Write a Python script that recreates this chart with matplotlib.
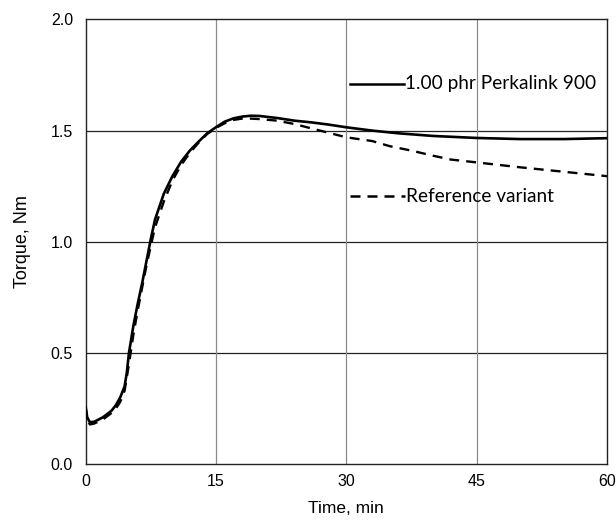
import matplotlib
matplotlib.use("Agg")
import matplotlib.pyplot as plt

# Data
t_solid = [0, 0.2, 0.5, 1, 2, 3, 3.5, 4, 4.5, 4.75, 5, 5.5, 6, 6.5, 7, 7.5, 8, 9, 10, 11, 12, 13, 14,
           15, 16, 17, 18, 19, 20, 22, 24, 26, 28, 30, 33, 36, 40, 45, 50, 55, 60]
v_solid = [0.26, 0.21, 0.188, 0.19, 0.21, 0.24, 0.265, 0.30, 0.35, 0.41, 0.50, 0.62, 0.72, 0.81,
           0.91, 1.01, 1.10, 1.215, 1.295, 1.36, 1.41, 1.45, 1.488, 1.515, 1.54, 1.555, 1.563,
           1.567, 1.566, 1.557, 1.545, 1.537, 1.527, 1.515, 1.50, 1.488, 1.476, 1.467, 1.462,
           1.462, 1.466]

t_dash = [0, 0.2, 0.5, 1, 2, 3, 3.5, 4, 4.5, 5, 5.5, 6, 6.5, 7, 7.5, 8, 9, 10, 11, 12, 13, 14,
          15, 16, 17, 18, 19, 20, 22, 24, 26, 28, 30, 33, 35, 37.5, 40, 42, 45, 50, 55, 60]
v_dash = [0.26, 0.20, 0.178, 0.182, 0.20, 0.23, 0.25, 0.28, 0.33, 0.45, 0.58, 0.69, 0.79, 0.89,
          0.98, 1.065, 1.18, 1.275, 1.345, 1.40, 1.445, 1.485, 1.512, 1.533, 1.548, 1.554, 1.554,
          1.552, 1.545, 1.53, 1.51, 1.49, 1.47, 1.453, 1.43, 1.41, 1.387, 1.37, 1.357, 1.335,
          1.315, 1.295]

label_solid = "1.00 phr Perkalink 900"
label_dash = "Reference variant"
x_ticks = [0, 15, 30, 45, 60]
y_ticks = [0.0, 0.5, 1.0, 1.5, 2.0]

fig = plt.figure(figsize=(6.16, 5.21), dpi=100)
ax = fig.add_axes([85.5 / 616, 1 - 464 / 521, (607 - 85.5) / 616, (464 - 19.5) / 521])

ax.set_xlim(0, 60)
ax.set_ylim(0, 2.0)

for y in [0.5, 1.0, 1.5]:
    ax.axhline(y, color="#222222", lw=0.9, zorder=1)
for x in [15, 30, 45]:
    ax.axvline(x, color="#8a8a8a", lw=0.9, zorder=1)

ax.plot(t_solid, v_solid, color="black", lw=1.9, zorder=3, solid_capstyle="butt")
ln, = ax.plot(t_dash, v_dash, color="black", lw=1.7, zorder=3)
ln.set_dashes((4.2, 3.0))

# Legend-style annotations
ax.plot([30.4, 36.7], [1.71, 1.71], color="black", lw=1.8, zorder=3)
ax.text(36.8, 1.71, label_solid, fontsize=13.7, family="Lato", va="center", ha="left")
ld, = ax.plot([30.4, 36.8], [1.205, 1.205], color="black", lw=1.8, zorder=3)
ld.set_dashes((4.0, 2.8))
ax.text(36.9, 1.205, label_dash, fontsize=13.7, family="Lato", va="center", ha="left")

ax.set_xticks(x_ticks)
ax.set_xticklabels([str(v) for v in x_ticks], family="Liberation Sans", fontsize=11.5)
ax.set_yticks(y_ticks)
ax.set_yticklabels([f"{v:.1f}" for v in y_ticks], family="Liberation Sans", fontsize=11.5)
ax.tick_params(axis="x", length=0, pad=7)
ax.tick_params(axis="y", length=0, pad=9)

ax.set_xlabel("Time, min", family="Liberation Sans", fontsize=12.5, labelpad=9)
ax.set_ylabel("Torque, Nm", family="Liberation Sans", fontsize=13, labelpad=14)

for s in ax.spines.values():
    s.set_linewidth(1.0)
    s.set_color("#222222")

fig.savefig("out.png", dpi=100)
